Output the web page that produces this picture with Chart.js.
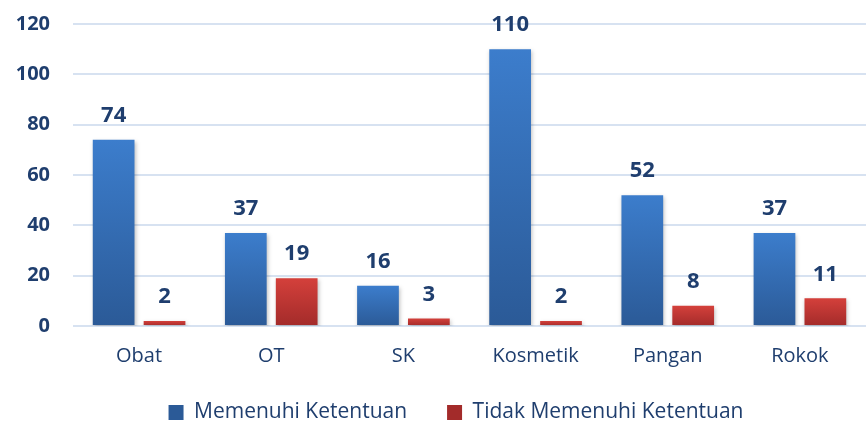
<!DOCTYPE html>
<html>
<head>
<meta charset="utf-8">
<script src="https://cdn.jsdelivr.net/npm/chart.js@4.4.1/dist/chart.umd.min.js"></script>
<style>
  html, body { margin: 0; padding: 0; background: #fff; }
  #wrap { width: 866px; height: 421px; }
</style>
</head>
<body>
<div id="wrap"><canvas id="barChart"></canvas></div>
<script>
const categories = ['Obat', 'OT', 'SK', 'Kosmetik', 'Pangan', 'Rokok'];
const memenuhi = [74, 37, 16, 110, 52, 37];
const tidakMemenuhi = [2, 19, 3, 2, 8, 11];
const yTicks = [0, 20, 40, 60, 80, 100, 120];

const navy = '#1F3E6E';
const fontFamily = '"Open Sans", Lato, sans-serif';

// vertical gradient per bar, lighter on top
function barGradient(top, bottom) {
    return function (context) {
        const chart = context.chart;
        if (!chart.chartArea || context.type !== 'data') return top;
        const yScale = chart.scales.y;
        const yTop = yScale.getPixelForValue(context.parsed.y);
        const yBase = yScale.getPixelForValue(0);
        const g = chart.ctx.createLinearGradient(0, yTop, 0, yBase);
        g.addColorStop(0, top);
        g.addColorStop(1, bottom);
        return g;
    };
}

// value labels above bars
const valueLabels = {
    id: 'valueLabels',
    afterDatasetsDraw(chart) {
        const ctx = chart.ctx;
        ctx.save();
        ctx.font = 'bold 22px ' + fontFamily;
        ctx.fillStyle = navy;
        ctx.textAlign = 'center';
        ctx.textBaseline = 'bottom';
        chart.data.datasets.forEach((ds, i) => {
            chart.getDatasetMeta(i).data.forEach((bar, j) => {
                ctx.fillText(ds.data[j], bar.x, bar.y - 13);
            });
        });
        ctx.restore();
    }
};

// soft shadow under bars
const barShadow = {
    id: 'barShadow',
    beforeDatasetsDraw(chart) {
        const ctx = chart.ctx;
        ctx.save();
        ctx.shadowColor = 'rgba(0,0,0,0.25)';
        ctx.shadowBlur = 4;
        ctx.shadowOffsetX = 1;
        ctx.shadowOffsetY = 2;
    },
    afterDatasetsDraw(chart) {
        chart.ctx.restore();
    }
};

// nudge the legend block up and a little right
const legendNudge = {
    id: 'legendNudge',
    afterLayout(chart) {
        const lg = chart.legend;
        if (!lg) return;
        lg.top -= 14; lg.bottom -= 14;
        lg.left += 23; lg.right += 23;
    }
};

const barChart = document.getElementById('barChart');

const barChartElement = new Chart(barChart, {
    type: 'bar',
    data: {
        labels: categories,
        datasets: [
            {
                label: 'Memenuhi Ketentuan',
                data: memenuhi,
                backgroundColor: barGradient('#3C7DCC', '#2B5A97')
            },
            {
                label: 'Tidak Memenuhi Ketentuan',
                data: tidakMemenuhi,
                backgroundColor: barGradient('#D4403B', '#A32B2A')
            }
        ]
    },
    plugins: [barShadow, valueLabels, legendNudge],
    options: {
        responsive: true,
        maintainAspectRatio: false,
        animation: false,
        categoryPercentage: 0.77,
        barPercentage: 0.82,
        layout: { padding: { top: 24, right: 0, bottom: -26, left: 0 } },
        scales: {
            x: {
                grid: { display: false, drawTicks: false },
                border: { display: false },
                ticks: {
                    color: navy,
                    padding: 18,
                    font: { family: fontFamily, size: 20 }
                },
                afterFit(scale) {
                    scale.height = 50;
                    scale.paddingLeft = 0;
                    scale.paddingRight = 0;
                }
            },
            y: {
                min: 0,
                max: 120,
                afterBuildTicks(scale) {
                    scale.ticks = yTicks.map(v => ({ value: v }));
                },
                grid: { color: '#D7E2F1', lineWidth: 2, drawTicks: false },
                border: { display: false },
                ticks: {
                    color: navy,
                    padding: 23,
                    font: { family: fontFamily, size: 20, weight: 'bold' }
                },
                afterFit(scale) {
                    scale.width = 73;
                    scale.paddingTop = 0;
                    scale.paddingBottom = 0;
                }
            }
        },
        plugins: {
            legend: {
                position: 'bottom',
                labels: {
                    color: navy,
                    boxWidth: 15,
                    boxHeight: 15,
                    padding: 40,
                    font: { family: fontFamily, size: 21 }
                }
            },
            tooltip: { enabled: false }
        }
    }
});
</script>
</body>
</html>
